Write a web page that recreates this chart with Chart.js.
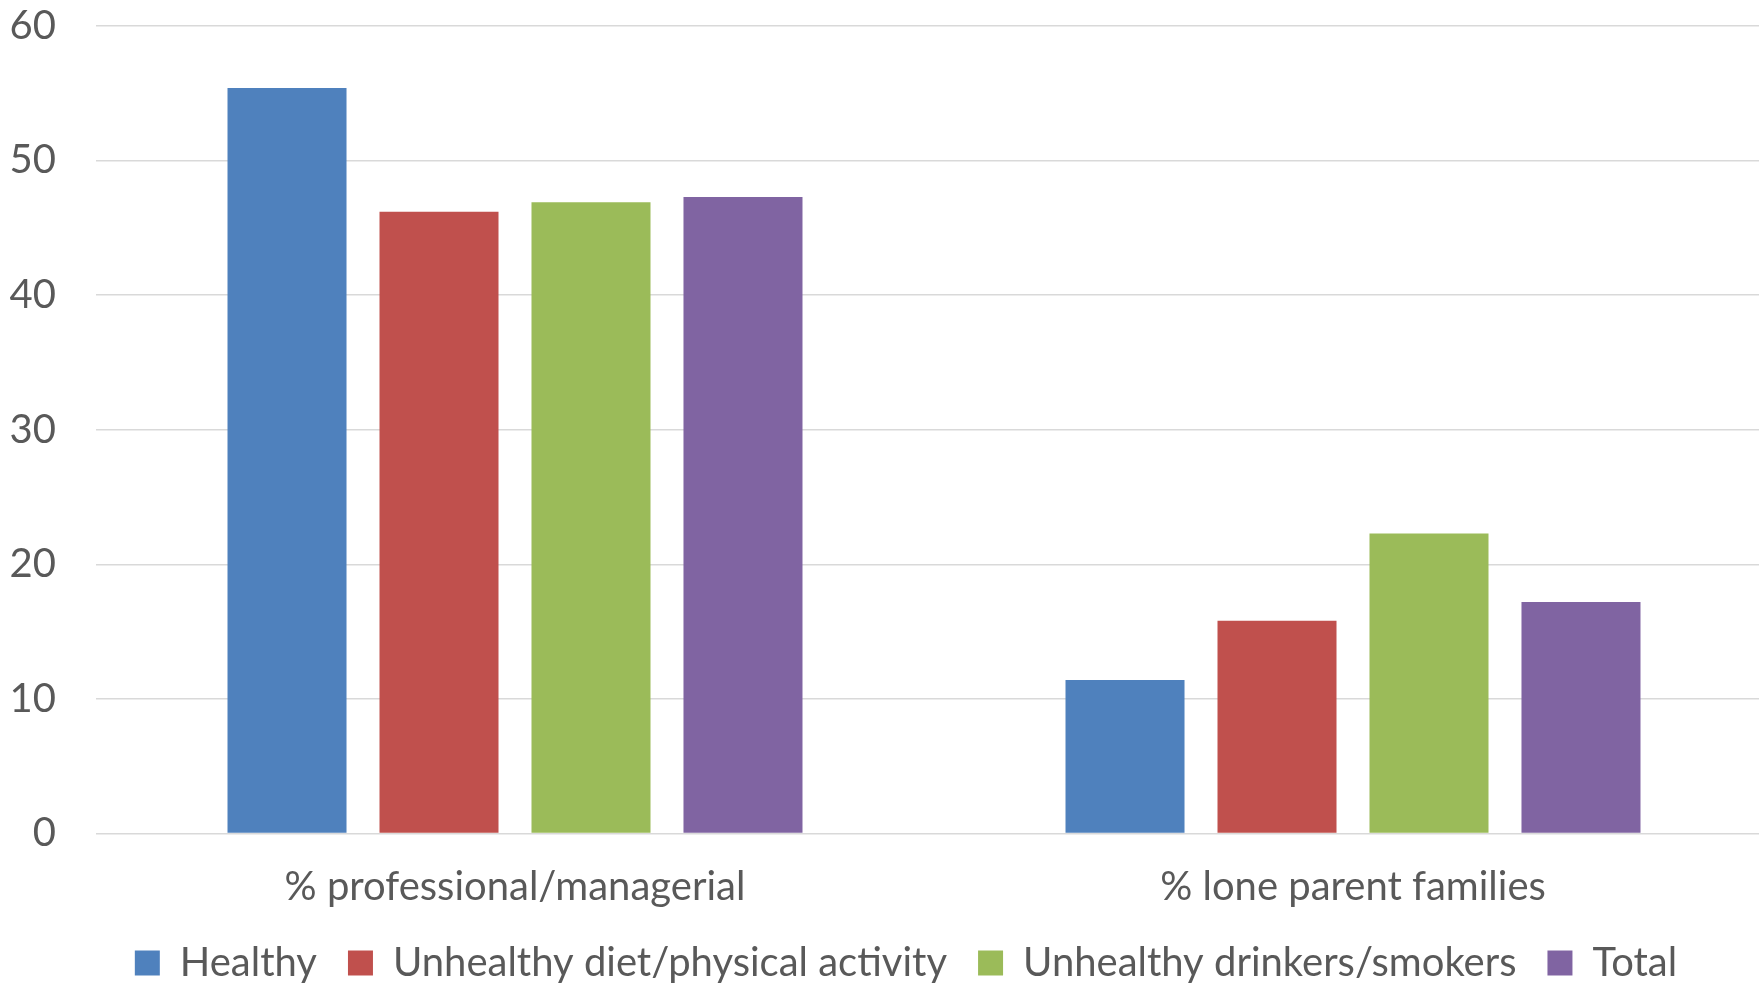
<!DOCTYPE html>
<html>
<head>
<meta charset="utf-8">
<script src="https://cdn.jsdelivr.net/npm/chart.js@4"></script>
<style>
    html, body { margin: 0; padding: 0; background: #ffffff; overflow: hidden; }
    #wrap { position: relative; width: 1812px; height: 984px; }
</style>
</head>
<body>
<div id="wrap"><canvas id="grafico"></canvas></div>
<script>
const categorias = ['% professional/managerial', '% lone parent families'];
const series = ['Healthy', 'Unhealthy diet/physical activity', 'Unhealthy drinkers/smokers', 'Total'];
const healthy = [55.4, 11.4];
const unhealthyDiet = [46.2, 15.8];
const unhealthyDrink = [46.9, 22.3];
const total = [47.3, 17.2];
const ejeY = [0, 10, 20, 30, 40, 50, 60];

const colores = ['#4F81BD', '#C0504D', '#9BBB59', '#8064A2'];
const valores = [healthy, unhealthyDiet, unhealthyDrink, total];
const fuente = 'Lato, "Open Sans", sans-serif';

const datasets = series.map((nombre, i) => ({
    label: nombre,
    data: valores[i],
    backgroundColor: colores[i],
    borderWidth: 0,
    barPercentage: 0.783,
    categoryPercentage: 0.7255
}));

// la leyenda usa el mismo padding en horizontal y vertical; aquí se recorta su alto
const altoLeyenda = {
    id: 'altoLeyenda',
    beforeLayout(chart) {
        const leyenda = chart.legend;
        if (!leyenda || leyenda._altoFijo) return;
        const fitOriginal = leyenda.fit;
        leyenda.fit = function() {
            fitOriginal.call(this);
            this.height = 72;
        };
        leyenda._altoFijo = true;
    }
};

new Chart(document.getElementById('grafico'), {
    type: 'bar',
    data: { labels: categorias, datasets: datasets },
    plugins: [altoLeyenda],
    options: {
        responsive: true,
        maintainAspectRatio: false,
        animation: false,
        layout: { padding: 0 },
        scales: {
            x: {
                grid: { display: false, drawTicks: false },
                border: { display: false },
                ticks: {
                    color: '#595959',
                    padding: 30,
                    font: { family: fuente, size: 40 }
                },
                afterFit: eje => {
                    eje.height = 78.5;
                    eje.paddingLeft = 0;
                    eje.paddingRight = 40;
                }
            },
            y: {
                min: 0,
                max: 60,
                afterBuildTicks: eje => { eje.ticks = ejeY.map(v => ({ value: v })); },
                grid: { color: '#D9D9D9', lineWidth: 1.5, drawTicks: false },
                border: { display: false },
                ticks: {
                    color: '#595959',
                    padding: 40,
                    font: { family: fuente, size: 40 }
                },
                afterFit: eje => {
                    eje.width = 96;
                    eje.paddingTop = 26;
                    eje.paddingBottom = 0;
                }
            }
        },
        plugins: {
            legend: {
                position: 'bottom',
                labels: {
                    color: '#595959',
                    boxWidth: 25,
                    boxHeight: 25,
                    padding: 31,
                    font: { family: fuente, size: 40 }
                }
            },
            tooltip: { enabled: false }
        }
    }
});
</script>
</body>
</html>
